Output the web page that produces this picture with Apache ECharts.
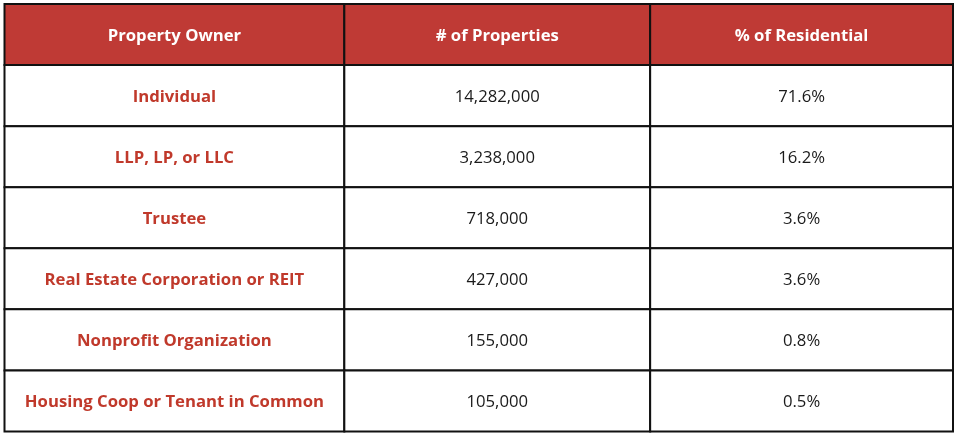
<!DOCTYPE html>
<html>
<head>
<meta charset="utf-8">
<script src="https://cdn.jsdelivr.net/npm/echarts@6/dist/echarts.min.js"></script>
<style>
  html, body { margin: 0; padding: 0; background: #fff; }
  #main { width: 961px; height: 437px; }
</style>
</head>
<body>
<div id="main"></div>
<script>
// table content
var headers = ['Property Owner', '# of Properties', '% of Residential'];
var owners = ['Individual', 'LLP, LP, or LLC', 'Trustee', 'Real Estate Corporation or REIT',
  'Nonprofit Organization', 'Housing Coop or Tenant in Common'];
var properties = ['14,282,000', '3,238,000', '718,000', '427,000', '155,000', '105,000'];
var percents = ['71.6%', '16.2%', '3.6%', '3.6%', '0.8%', '0.5%'];

// column boundaries on the x value axis (layout only)
var colEdges = [0, 340, 646, 949];

var rows = ['h'].concat(owners.map(function (o, i) { return 'r' + i; }));
var cells = [];
headers.forEach(function (h, c) { cells.push([c, 0, h]); });
owners.forEach(function (o, i) {
  cells.push([0, i + 1, o]);
  cells.push([1, i + 1, properties[i]]);
  cells.push([2, i + 1, percents[i]]);
});

var RED = '#bf3a35';
var FONT = '"Open Sans", "Noto Sans", sans-serif';

var chart = echarts.init(document.getElementById('main'));
chart.setOption({
  animation: false,
  grid: { left: 4.5, right: 8, top: 4, bottom: 5.5 },
  xAxis: { type: 'value', min: colEdges[0], max: colEdges[3], show: false },
  yAxis: { type: 'category', data: rows, inverse: true, show: false },
  series: [{
    type: 'custom',
    data: cells,
    renderItem: function (params, api) {
      var c = api.value(0), r = api.value(1);
      var txt = cells[params.dataIndex][2];
      var p0 = api.coord([colEdges[c], r]);
      var p1 = api.coord([colEdges[c + 1], r]);
      var h = api.size([0, 1])[1];
      var isHead = r === 0;
      var color = isHead ? '#ffffff' : (c === 0 ? '#c0392b' : '#1a1a1a');
      var weight = (isHead || c === 0) ? 'bold' : 'normal';
      return {
        type: 'group',
        children: [{
          type: 'rect',
          shape: { x: p0[0], y: p0[1] - h / 2, width: p1[0] - p0[0], height: h },
          style: { fill: isHead ? RED : '#ffffff', stroke: '#111111', lineWidth: 2 }
        }, {
          type: 'text',
          x: (p0[0] + p1[0]) / 2,
          y: p0[1] + 1.5,
          style: {
            text: txt, fill: color, align: 'center', verticalAlign: 'middle',
            font: weight + ' 16.7px ' + FONT
          }
        }]
      };
    }
  }]
});
</script>
</body>
</html>
